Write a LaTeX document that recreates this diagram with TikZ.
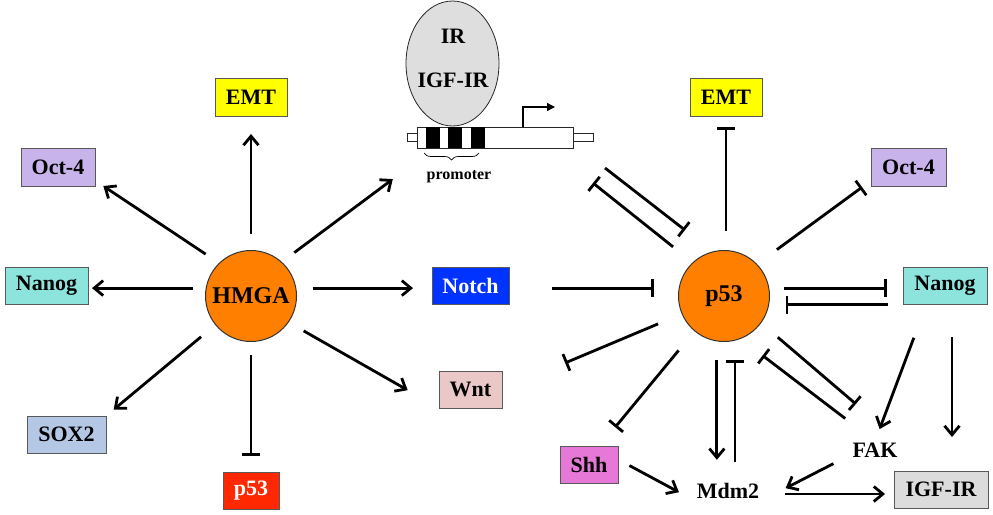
\documentclass[tikz,border=0pt]{standalone}
\usepackage{fontspec}
\setmainfont{Liberation Serif}
\usetikzlibrary{arrows.meta,shapes.geometric,calc,decorations.pathreplacing}
\definecolor{corange}{RGB}{255,128,0}
\definecolor{cyellow}{RGB}{255,255,0}
\definecolor{clav}{RGB}{200,180,235}
\definecolor{cturq}{RGB}{140,228,220}
\definecolor{cblue}{RGB}{180,200,230}
\definecolor{cred}{RGB}{255,40,0}
\definecolor{cnotch}{RGB}{0,51,255}
\definecolor{cwnt}{RGB}{235,200,200}
\definecolor{cshh}{RGB}{230,120,215}
\definecolor{cgrey}{RGB}{220,220,220}
\definecolor{cell}{RGB}{222,222,222}
\begin{document}
\begin{tikzpicture}[x=1pt,y=-1pt,
 every node/.style={outer sep=0pt},
 box/.style={draw=black!65, line width=1pt, minimum height=37pt, inner sep=0pt, font=\fontsize{22}{26}\selectfont\bfseries},
 bigc/.style={circle, draw=black!80, line width=1pt, fill=corange, minimum size=91pt, inner sep=0pt, font=\fontsize{24}{28}\selectfont\bfseries},
 lab/.style={inner sep=2pt, font=\fontsize{22}{26}\selectfont\bfseries},
 act/.style={line width=2.8pt, -{Straight Barb[length=9pt,width=15pt]}},
 inh/.style={line width=2.8pt, -{Bar[width=18pt]}},
 thin/.style={draw=black!85, line width=0.8pt}]

\useasboundingbox (0,0) rectangle (993,514);

% gene with IR / IGF-IR
\node[ellipse, thin, fill=cell, minimum width=93pt, minimum height=125pt, inner sep=0pt] (ir) at (452.5,63.5) {};
\node[lab] (irt) at (453,36.5) {IR};
\node[lab] (igft) at (453,80) {IGF-IR};
\draw[thin, fill=white] (407,133) rectangle (417,141);
\draw[thin, fill=white] (573,133) rectangle (593,141);
\node[thin, draw, fill=white, minimum width=156pt, minimum height=21pt, inner sep=0pt] (gene) at (495,137.5) {};
\fill (426,127) rectangle (440,148);
\fill (448,127) rectangle (462,148);
\fill (471,127) rectangle (485,148);
\draw[line width=1.2pt, -{Triangle[length=8pt,width=8pt]}] (523,127) -- (523,107) -- (555,107);
\draw[decorate, decoration={brace, amplitude=7pt}, line width=0.7pt] (479,153) -- (424,153);
\node[inner sep=2pt, font=\fontsize{16}{18}\selectfont\bfseries] (promoter) at (459,176.5) {promoter};

% main nodes
\node[bigc] (hmga) at (251,296) {HMGA};
\node[bigc] (p53c) at (724,296) {p53};
\node[box, fill=cyellow, minimum width=72pt, minimum height=38pt] (emtL) at (251,97) {EMT};
\node[box, fill=clav, minimum width=74pt, minimum height=38pt] (octL) at (58,167) {Oct-4};
\node[box, fill=cturq, minimum width=83pt] (nanL) at (46.5,285.5) {Nanog};
\node[box, fill=cblue, minimum width=79pt] (sox) at (66.5,434.5) {SOX2};
\node[box, fill=cred, text=white, minimum width=56pt] (p53b) at (251,490.5) {p53};
\node[box, fill=cnotch, text=white, minimum width=77pt] (notch) at (470.5,285.5) {Notch};
\node[box, fill=cwnt, minimum width=63pt] (wnt) at (470.5,389.5) {Wnt};
\node[box, fill=cyellow, minimum width=72pt, minimum height=38pt] (emtR) at (726,97) {EMT};
\node[box, fill=clav, minimum width=75pt, minimum height=38pt] (octR) at (908.5,167) {Oct-4};
\node[box, fill=cturq, minimum width=84pt] (nanR) at (945,285.5) {Nanog};
\node[box, fill=cshh, minimum width=58pt] (shh) at (589,464.5) {Shh};
\node[box, fill=cgrey, minimum width=94pt] (igf) at (941,489.5) {IGF-IR};
\node[lab] (mdm2) at (728,491) {Mdm2};
\node[lab] (fak) at (875,450.5) {FAK};

% HMGA connectors
\draw[act, shorten <=16.5pt, shorten >=18pt] (hmga.north) -- (emtL.south);
\draw[act, shorten <=16.5pt, shorten >=10pt] (hmga.134) -- (octL.-20);
\draw[act, shorten <=13pt, shorten >=4pt] (hmga.170) -- (hmga.170 -| nanL.east);
\draw[act, shorten <=19pt, shorten >=10pt] (hmga.219) -- (sox.north east);
\draw[inh, shorten <=13.5pt, shorten >=16pt] (hmga.south) -- (p53b.north);
\draw[act, shorten <=17pt, shorten >=19pt] (hmga.10) -- (hmga.10 -| notch.west);
\draw[act, shorten <=17.7pt, shorten >=36pt] (hmga.-35) -- (wnt.south west);
\draw[act, shorten <=16pt, shorten >=35pt] (hmga.48) -- ($(gene.south west)!0.5!(promoter.north west)$);

% p53 connectors
\draw[inh, shorten <=43pt, shorten >=25pt] (notch.east |- p53c.170) -- (p53c.170);
\draw[inh, shorten <=20pt, shorten >=11pt] (emtR.south |- p53c.north) -- (emtR.south);
\draw[inh, shorten <=25pt, shorten >=11pt] (p53c.44) -- (octR.200);
\draw[inh, shorten <=15pt, shorten >=16pt] (p53c.10) -- (p53c.10 -| nanR.west);
\draw[inh, shorten <=15pt, shorten >=17pt] (p53c.-11 -| nanR.west) -- (p53c.-11);
\coordinate (gA) at ($(gene.south east)+(32,20)$);
\coordinate (gB) at ($(gene.south east)+(20,35)$);
\draw[inh, shorten >=35.5pt] (gA) -- (p53c.104);
\draw[inh, shorten <=25.5pt] (p53c.133) -- (gB);
\draw[inh, shorten <=26pt, shorten >=68.5pt] (p53c.203) -- (wnt.east);
\draw[inh, shorten <=25.4pt, shorten >=24.4pt] (p53c.230) -- (shh.60);
\draw[act, shorten <=19pt, shorten >=21.5pt] (p53c.261) -- (p53c.261 |- mdm2.north);
\draw[inh, shorten <=19.5pt, shorten >=20pt] (p53c.284 |- mdm2.north) -- (p53c.284);
\draw[inh, shorten <=22.4pt, shorten >=57.3pt] (p53c.-36) -- (fak.north east);
\draw[inh, shorten <=37.5pt, shorten >=28pt] (fak.north) -- (p53c.-69);
\draw[act, shorten <=36pt, shorten >=13pt] (nanR.-135) -- (fak.north);
\draw[act, shorten <=33pt, shorten >=34pt] ($(nanR.south)+(7,0)$) -- ($(nanR.south |- igf.north)+(7,0)$);
\draw[act, shorten <=13pt, shorten >=18pt] (shh.10) -- (mdm2.south west);
\draw[act, shorten <=19.3pt, shorten >=27.5pt] (fak.190) -- (mdm2.south east);
\draw[act, shorten <=24pt, shorten >=9pt] ($(mdm2.east)+(0,3)$) -- ($(mdm2.east -| igf.west)+(0,3)$);
\end{tikzpicture}
\end{document}
